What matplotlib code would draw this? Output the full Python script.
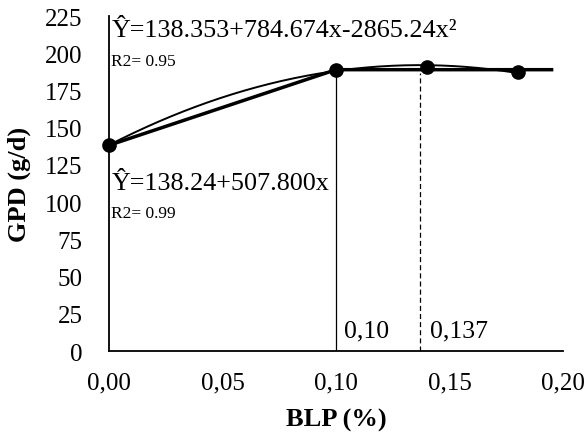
import numpy as np
import matplotlib
matplotlib.use("Agg")
import matplotlib.pyplot as plt

plt.rcParams['font.family'] = ['Liberation Serif', 'DejaVu Serif']

# Observed means
blp = [0.00, 0.10, 0.14, 0.18]
gpd = [138.4, 188.7, 190.7, 187.4]

# Fitted models
lin_a, lin_b = 138.24, 507.800
quad_a, quad_b, quad_c = 138.353, 784.674, -2865.24
break_point = 0.10
quad_opt = 0.137
plateau_end = 0.195

x_ticks = [0.00, 0.05, 0.10, 0.15, 0.20]
x_tick_labels = ["0,00", "0,05", "0,10", "0,15", "0,20"]
y_ticks = list(range(0, 226, 25))

fig = plt.figure(figsize=(5.85, 4.39), dpi=100)
ax = fig.add_axes([0.1863, 0.198, 0.776, 0.763])

# Quadratic curve
xq = np.linspace(0, 0.18, 200)
yq = quad_a + quad_b * xq + quad_c * xq ** 2
ax.plot(xq, yq, color='black', lw=1.4, zorder=3)

# Linear-plateau model
plateau = lin_a + lin_b * break_point
ax.plot([0, break_point, plateau_end], [lin_a, plateau, plateau],
        color='black', lw=2.5, zorder=3)

# Reference lines for the breakpoint and quadratic optimum
ax.plot([break_point, break_point], [0, plateau], color='black', lw=0.9, zorder=2)
ax.plot([quad_opt, quad_opt], [0, plateau - 2], color='black', lw=0.9,
        ls=(0, (4, 2.5)), zorder=2)

ax.plot(blp, gpd, 'o', color='black', ms=9.5, zorder=4, clip_on=False)

ax.text(0.001, 216, "Ŷ=138.353+784.674x-2865.24x²", fontsize=18.8,
        va='center', ha='left')
ax.text(0.001, 195, "R2= 0.95", fontsize=12.5, va='center', ha='left')
ax.text(0.001, 113, "Ŷ=138.24+507.800x", fontsize=18.8, va='center', ha='left')
ax.text(0.001, 93, "R2= 0.99", fontsize=12.5, va='center', ha='left')
ax.text(0.1035, 14, "0,10", fontsize=18.5, va='center', ha='left')
ax.text(0.1415, 14, "0,137", fontsize=18.5, va='center', ha='left')

ax.set_xlim(0, 0.20)
ax.set_ylim(0, 225)
ax.set_xticks(x_ticks)
ax.set_xticklabels(x_tick_labels)
ax.set_yticks(y_ticks)
ax.tick_params(axis='both', length=0, labelsize=18)
ax.tick_params(axis='x', pad=15)
ax.tick_params(axis='y', pad=19)
for s in ['top', 'right']:
    ax.spines[s].set_visible(False)
for s in ['left', 'bottom']:
    ax.spines[s].set_linewidth(1.3)

ax.set_xlabel("BLP (%)", fontsize=19, fontweight='bold', labelpad=10)
ax.set_ylabel("GPD (g/d)", fontsize=19, fontweight='bold', labelpad=10)

fig.savefig("out.png", dpi=100)
